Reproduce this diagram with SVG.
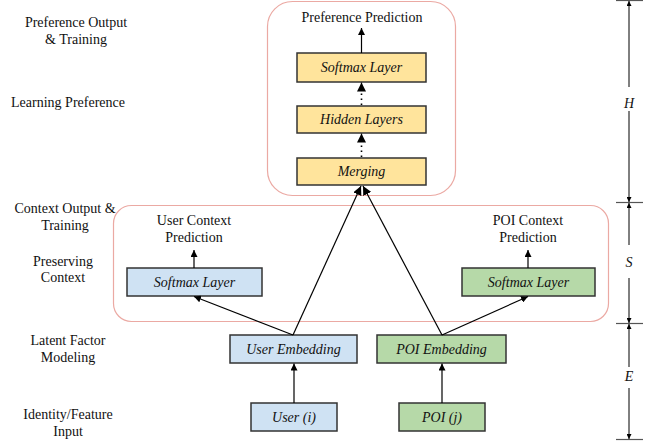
<svg xmlns="http://www.w3.org/2000/svg" width="662" height="442" viewBox="0 0 662 442">
  <defs>
    <marker id="arr" viewBox="0 0 10 10" refX="10" refY="5" markerWidth="7" markerHeight="7" markerUnits="userSpaceOnUse" orient="auto">
      <path d="M0,0 L10,5 L0,10 z" fill="#000"/>
    </marker>
    <marker id="arrBig" viewBox="0 0 10 10" refX="10" refY="5" markerWidth="9" markerHeight="9" markerUnits="userSpaceOnUse" orient="auto">
      <path d="M0,0 L10,5 L0,10 z" fill="#000"/>
    </marker>
    <marker id="dim" viewBox="0 0 10 10" refX="10" refY="5" markerWidth="5" markerHeight="5" markerUnits="userSpaceOnUse" orient="auto">
      <path d="M0,0 L10,5 L0,10 z" fill="#000"/>
    </marker>
  </defs>
  <style>
    text { font-family: "Liberation Serif", "Times New Roman", serif; font-size: 14px; fill: #111; }
    .lbl { text-anchor: middle; }
    .it { font-style: italic; text-anchor: middle; }
    .box { stroke: #333; stroke-width: 1.5; }
    .yel { fill: #FFE49C; }
    .blu { fill: #CFE2F3; }
    .grn { fill: #B6D9A8; }
    .frame { fill: none; stroke: #EBA9A3; stroke-width: 1.2; }
    .conn { stroke: #000; stroke-width: 1.2; fill: none; }
    .dot { stroke: #000; stroke-width: 1.6; stroke-dasharray: 1.5 3.5; fill: none; }
    .dimln { stroke: #000; stroke-width: 1; fill: none; }
    .tick { stroke: #555; stroke-width: 1.2; }
  </style>

  <rect width="662" height="442" fill="#fff"/>

  <!-- layer captions on the left -->
  <g id="captions">
    <text class="lbl" x="76" y="27">Preference Output</text>
    <text class="lbl" x="76" y="44">&amp; Training</text>
    <text class="lbl" x="68" y="107">Learning Preference</text>
    <text class="lbl" x="65" y="213">Context Output &amp;</text>
    <text class="lbl" x="65" y="230">Training</text>
    <text class="lbl" x="63" y="266">Preserving</text>
    <text class="lbl" x="63" y="282">Context</text>
    <text class="lbl" x="68" y="345">Latent Factor</text>
    <text class="lbl" x="68" y="362">Modeling</text>
    <text class="lbl" x="68" y="419">Identity/Feature</text>
    <text class="lbl" x="68" y="436">Input</text>
  </g>

  <!-- grouping frames -->
  <g id="preference-frame">
    <rect class="frame" x="267.5" y="1.5" width="188" height="194" rx="25" ry="25"/>
    <text class="lbl" x="362" y="22">Preference Prediction</text>
  </g>
  <g id="context-frame">
    <rect class="frame" x="113.5" y="205.5" width="495" height="116" rx="18" ry="18"/>
  </g>

  <!-- nodes -->
  <g id="pref-softmax">
    <rect class="box yel" x="297" y="53" width="129" height="29"/>
    <text class="it" x="361.5" y="72">Softmax Layer</text>
  </g>
  <g id="hidden-layers">
    <rect class="box yel" x="297" y="106" width="129" height="27"/>
    <text class="it" x="361.5" y="124">Hidden Layers</text>
  </g>
  <g id="merging">
    <rect class="box yel" x="297" y="158" width="129" height="27"/>
    <text class="it" x="361.5" y="176">Merging</text>
  </g>

  <g id="user-context">
    <text class="lbl" x="194" y="225">User Context</text>
    <text class="lbl" x="194" y="242">Prediction</text>
  </g>
  <g id="user-softmax">
    <rect class="box blu" x="127" y="268" width="135" height="28"/>
    <text class="it" x="194.5" y="287">Softmax Layer</text>
  </g>
  <g id="poi-context">
    <text class="lbl" x="528" y="225">POI Context</text>
    <text class="lbl" x="528" y="242">Prediction</text>
  </g>
  <g id="poi-softmax">
    <rect class="box grn" x="462" y="268" width="133" height="28"/>
    <text class="it" x="528.5" y="287">Softmax Layer</text>
  </g>

  <g id="user-embedding">
    <rect class="box blu" x="230" y="335" width="127" height="28"/>
    <text class="it" x="293.5" y="354">User Embedding</text>
  </g>
  <g id="poi-embedding">
    <rect class="box grn" x="377" y="335" width="129" height="28"/>
    <text class="it" x="441.5" y="354">POI Embedding</text>
  </g>
  <g id="user-input">
    <rect class="box blu" x="251" y="403" width="86" height="28"/>
    <text class="it" x="294" y="422">User (i)</text>
  </g>
  <g id="poi-input">
    <rect class="box grn" x="399" y="403" width="86" height="28"/>
    <text class="it" x="442" y="422">POI (j)</text>
  </g>

  <!-- connectors -->
  <g id="connectors">
    <line class="conn" x1="294" y1="403" x2="294" y2="363.5" marker-end="url(#arr)"/>
    <line class="conn" x1="442" y1="403" x2="442" y2="363.5" marker-end="url(#arr)"/>
    <line class="conn" x1="293" y1="335" x2="194" y2="296.5" marker-end="url(#arr)"/>
    <line class="conn" x1="442" y1="335" x2="528" y2="296.5" marker-end="url(#arr)"/>
    <line class="conn" x1="293" y1="335" x2="361" y2="186" marker-end="url(#arrBig)"/>
    <line class="conn" x1="442" y1="335" x2="363" y2="186" marker-end="url(#arrBig)"/>
    <line class="conn" x1="194" y1="268" x2="194" y2="250" marker-end="url(#arr)"/>
    <line class="conn" x1="528" y1="268" x2="528" y2="250" marker-end="url(#arr)"/>
    <line class="conn" x1="361.5" y1="53" x2="361.5" y2="28" marker-end="url(#arr)"/>
    <line class="dot" x1="361.5" y1="157" x2="361.5" y2="141"/>
    <line class="conn" x1="361.5" y1="142" x2="361.5" y2="133.5" marker-end="url(#arrBig)"/>
    <line class="dot" x1="361.5" y1="105" x2="361.5" y2="89"/>
    <line class="conn" x1="361.5" y1="90" x2="361.5" y2="82.5" marker-end="url(#arrBig)"/>
  </g>

  <!-- dimension scale on the right -->
  <g id="scale">
    <line class="tick" x1="616" y1="0.5" x2="643" y2="0.5"/>
    <line class="tick" x1="616" y1="202.5" x2="643" y2="202.5"/>
    <line class="tick" x1="616" y1="323.5" x2="643" y2="323.5"/>
    <line class="tick" x1="616" y1="439.5" x2="643" y2="439.5"/>

    <line class="dimln" x1="629" y1="87" x2="629" y2="1" marker-end="url(#dim)"/>
    <line class="dimln" x1="629" y1="111" x2="629" y2="202" marker-end="url(#dim)"/>
    <line class="dimln" x1="629" y1="245" x2="629" y2="203" marker-end="url(#dim)"/>
    <line class="dimln" x1="629" y1="278" x2="629" y2="323" marker-end="url(#dim)"/>
    <line class="dimln" x1="629" y1="367" x2="629" y2="324" marker-end="url(#dim)"/>
    <line class="dimln" x1="629" y1="388" x2="629" y2="439" marker-end="url(#dim)"/>

    <text class="it" x="629" y="108">H</text>
    <text class="it" x="629" y="267">S</text>
    <text class="it" x="629" y="381">E</text>
  </g>
</svg>
